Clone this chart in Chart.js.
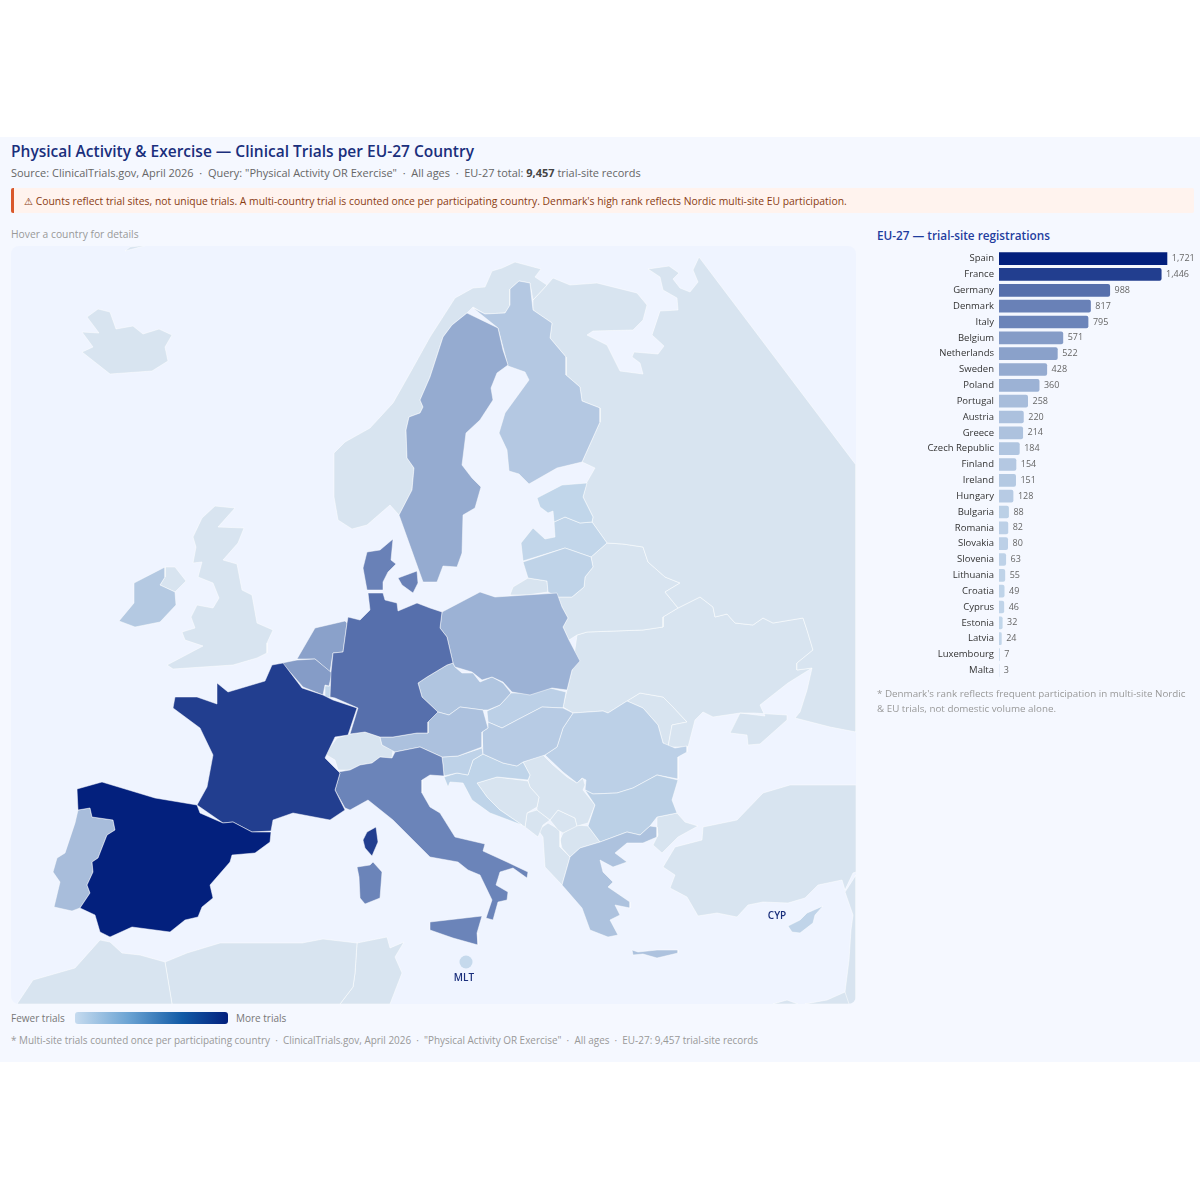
<!DOCTYPE html>
<html>
<head>
    <meta charset="utf-8">
    <title>Physical Activity & Exercise - Clinical Trials per EU-27 Country</title>
    <script src="https://cdn.jsdelivr.net/npm/chart.js"></script>
    <style>
        body { margin: 0; background: #fff; font-family: "Open Sans", sans-serif; width: 1200px; height: 1200px; position: relative; overflow: hidden; }
        #panel { position: absolute; left: 0; top: 137px; width: 1200px; height: 925px; background: #f5f8ff; }
        .t { position: absolute; white-space: nowrap; line-height: 1; }
        #title { left: 11px; top: 144px; font-size: 15.5px; font-weight: 600; color: #1a2f7c; }
        #sub { left: 11px; top: 167px; font-size: 10.98px; color: #666; }
        #sub b { color: #444; }
        #warn { position: absolute; left: 11px; top: 188px; width: 1170px; height: 25px; background: #fff3ee; border-left: 3px solid #d9582b; border-radius: 2px; padding-left: 10px; font-size: 10.38px; line-height: 27px; color: #8a3c12; white-space: nowrap; }
        #hover { left: 11px; top: 229px; font-size: 10.3px; color: #999; }
        #mapbox { position: absolute; left: 11px; top: 246px; width: 845px; height: 758px; background: #eff4ff; border-radius: 8px; overflow: hidden; }
        #barTitle { left: 877px; top: 230px; font-size: 11.75px; font-weight: 600; color: #1f3d9e; }
        #note { position: absolute; left: 877px; top: 686px; width: 318px; font-size: 9.8px; line-height: 15px; color: #999; }
        #fewer { left: 11px; top: 1013px; font-size: 10px; color: #777; }
        #more { left: 236px; top: 1013px; font-size: 10px; color: #777; }
        #ramp { position: absolute; left: 75px; top: 1012px; width: 153px; height: 12px; border-radius: 3px; background: linear-gradient(to right, #c6dbef, #6ba3d3 35%, #125ba6 70%, #03207d); }
        #foot { left: 11px; top: 1036px; font-size: 9.94px; color: #999; }
    </style>
</head>
<body>
    <div id="panel"></div>
    <div class="t" id="title">Physical Activity &amp; Exercise — Clinical Trials per EU-27 Country</div>
    <div class="t" id="sub">Source: ClinicalTrials.gov, April 2026 &nbsp;·&nbsp; Query: "Physical Activity OR Exercise" &nbsp;·&nbsp; All ages &nbsp;·&nbsp; EU-27 total: <b>9,457</b> trial-site records</div>
    <div id="warn">⚠ Counts reflect trial sites, not unique trials. A multi-country trial is counted once per participating country. Denmark's high rank reflects Nordic multi-site EU participation.</div>
    <div class="t" id="hover">Hover a country for details</div>
    <div id="mapbox"><canvas id="mapChart" width="845" height="758"></canvas></div>
    <div class="t" id="barTitle">EU-27 — trial-site registrations</div>
    <canvas id="barChart" width="324" height="449" style="position:absolute;left:876px;top:240px"></canvas>
    <div id="note">* Denmark's rank reflects frequent participation in multi-site Nordic &amp; EU trials, not domestic volume alone.</div>
    <div class="t" id="fewer">Fewer trials</div>
    <div id="ramp"></div>
    <div class="t" id="more">More trials</div>
    <div class="t" id="foot">* Multi-site trials counted once per participating country &nbsp;·&nbsp; ClinicalTrials.gov, April 2026 &nbsp;·&nbsp; "Physical Activity OR Exercise" &nbsp;·&nbsp; All ages &nbsp;·&nbsp; EU-27: 9,457 trial-site records</div>

    <script>
        // trial-site counts, sorted as in the side panel
        const countries = ['Spain', 'France', 'Germany', 'Denmark', 'Italy', 'Belgium', 'Netherlands', 'Sweden', 'Poland', 'Portugal', 'Austria', 'Greece', 'Czech Republic', 'Finland', 'Ireland', 'Hungary', 'Bulgaria', 'Romania', 'Slovakia', 'Slovenia', 'Lithuania', 'Croatia', 'Cyprus', 'Estonia', 'Latvia', 'Luxembourg', 'Malta'];
        const trials = [1721, 1446, 988, 817, 795, 571, 522, 428, 360, 258, 220, 214, 184, 154, 151, 128, 88, 82, 80, 63, 55, 49, 46, 32, 24, 7, 3];

        // country outlines in map units
        const spain = [[77,789],[102,782],[155,798],[197,805],[200,813],[223,823],[233,822],[252,832],[271,832],[270,842],[255,853],[232,855],[230,862],[210,885],[213,898],[202,907],[198,917],[185,920],[170,932],[132,927],[110,937],[100,932],[95,915],[80,908],[90,893],[87,885],[93,872],[92,862],[98,858],[107,835],[115,830],[113,820],[92,817],[90,808],[78,810]];
        const portugal = [[78,810],[90,808],[92,817],[113,820],[115,830],[107,835],[98,858],[92,862],[93,872],[87,885],[90,893],[80,908],[72,911],[54,907],[60,882],[53,872],[57,858],[65,853],[75,823]];
        const france = [[283,663],[302,688],[323,695],[333,700],[357,708],[348,735],[335,737],[325,758],[340,773],[335,790],[345,810],[330,820],[293,813],[273,820],[271,831],[252,832],[233,822],[223,823],[197,805],[207,787],[213,755],[200,728],[173,708],[175,697],[197,697],[217,704],[217,683],[228,692],[265,681],[272,665]];
        const corsica = [[376,827],[378,842],[372,856],[365,848],[363,840],[367,832]];
        const germany = [[368,593],[383,593],[385,600],[397,603],[398,611],[417,603],[430,608],[442,612],[440,628],[447,637],[453,663],[447,665],[427,677],[418,683],[422,697],[438,712],[428,722],[428,733],[417,733],[393,737],[380,737],[365,732],[350,734],[358,708],[335,698],[330,697],[331,672],[333,653],[343,652],[347,623],[348,617],[360,620],[370,610]];
        const jutland = [[393,539],[380,550],[367,552],[363,568],[367,590],[383,590],[383,582],[388,572],[396,564],[391,560]];
        const zealand = [[398,578],[417,571],[418,583],[413,593],[402,585]];
        const italy = [[338,772],[350,770],[360,765],[372,763],[380,757],[392,758],[395,752],[420,747],[442,757],[443,765],[444,776],[430,775],[422,780],[422,793],[430,807],[440,813],[455,837],[485,844],[483,851],[507,862],[528,872],[527,878],[513,868],[500,872],[496,885],[508,892],[507,900],[498,902],[493,920],[486,918],[492,900],[480,875],[468,870],[458,862],[430,857],[393,820],[368,800],[350,810],[345,808],[335,790],[340,773]];
        const sicily = [[430,922],[482,916],[477,933],[478,945],[453,938],[430,930]];
        const sardinia = [[357,867],[370,865],[373,862],[382,872],[380,898],[365,904],[360,898],[359,877]];
        const belgium = [[282,663],[297,660],[315,659],[332,673],[329,686],[325,685],[323,695],[303,687],[290,672]];
        const netherlands = [[297,659],[315,628],[345,621],[347,623],[343,652],[333,653],[330,672],[315,659]];
        const sweden = [[467,313],[498,328],[503,350],[508,365],[497,373],[491,388],[493,400],[480,420],[466,433],[462,465],[472,478],[481,487],[475,508],[463,515],[462,553],[457,567],[443,566],[437,582],[423,582],[399,515],[412,490],[414,468],[407,458],[406,430],[409,417],[420,413],[423,407],[420,400],[430,377],[443,337],[452,325]];
        const poland = [[442,612],[480,592],[495,597],[557,593],[562,607],[568,618],[563,627],[569,640],[580,661],[572,670],[567,690],[552,688],[530,695],[512,692],[503,682],[492,677],[482,680],[472,672],[455,667],[453,663],[447,637],[440,628]];
        const austria = [[380,737],[393,737],[417,733],[428,733],[428,722],[438,712],[449,715],[460,707],[483,710],[488,728],[482,732],[482,747],[458,756],[442,757],[420,747],[395,752],[382,745]];
        const greece = [[562,885],[570,857],[580,848],[600,842],[627,832],[640,835],[650,826],[657,827],[657,837],[643,843],[627,843],[615,853],[627,862],[613,867],[600,860],[603,872],[613,882],[608,887],[630,902],[630,908],[615,905],[620,915],[610,920],[618,935],[608,937],[590,930],[582,908]];
        const crete = [[632,950],[638,952],[657,950],[678,950],[678,953],[657,958],[643,954],[633,955]];
        const czechia = [[418,683],[427,677],[447,665],[453,663],[455,667],[462,673],[473,673],[480,682],[492,677],[503,683],[511,693],[500,705],[488,710],[483,710],[460,707],[449,715],[438,712],[422,697]];
        const finland = [[519,281],[530,283],[533,310],[552,323],[550,338],[566,357],[566,375],[580,387],[582,401],[600,408],[600,422],[582,462],[557,468],[529,484],[519,474],[509,471],[507,450],[499,433],[505,413],[529,380],[525,372],[508,366],[498,328],[473,308],[485,314],[505,313],[510,305],[510,289]];
        const ireland = [[165,567],[165,577],[160,585],[175,592],[176,605],[160,622],[135,627],[119,621],[134,603],[134,583]];
        const hungary = [[488,722],[502,728],[517,720],[542,707],[563,708],[573,713],[563,728],[557,747],[545,755],[523,762],[517,766],[503,763],[483,754],[482,732],[488,728]];
        const bulgaria = [[585,790],[593,794],[617,793],[633,788],[657,775],[678,780],[672,800],[677,813],[657,817],[650,826],[640,835],[627,832],[600,842],[588,826],[595,805]];
        const romania = [[573,713],[603,711],[608,713],[627,701],[643,708],[658,725],[663,743],[675,748],[687,746],[687,752],[678,757],[678,779],[657,775],[633,788],[617,793],[593,794],[585,790],[586,780],[582,778],[577,783],[563,772],[545,755],[557,747],[563,728]];
        const slovakia = [[511,693],[528,693],[550,688],[566,692],[563,708],[542,707],[517,720],[502,728],[488,722],[487,711],[500,705]];
        const slovenia = [[442,757],[458,756],[482,748],[483,754],[473,760],[468,775],[457,773],[444,776],[443,765]];
        const lithuania = [[523,562],[565,548],[591,557],[593,567],[585,577],[584,587],[572,597],[558,597],[548,592],[547,581],[528,578]];
        const croatia = [[483,754],[503,763],[517,766],[523,762],[530,775],[528,780],[497,777],[477,783],[487,797],[500,810],[522,825],[490,813],[472,800],[463,783],[450,782],[448,787],[444,777],[457,773],[468,775],[473,760]];
        const cyprus = [[788,926],[800,920],[807,913],[823,906],[815,915],[813,923],[800,933],[792,932]];
        const estonia = [[537,498],[562,485],[587,483],[583,497],[593,517],[592,522],[580,523],[565,517],[554,522],[553,511],[548,513],[540,507]];
        const latvia = [[554,522],[565,517],[580,523],[592,522],[607,543],[591,557],[565,548],[523,561],[521,543],[533,528],[545,539],[555,537]];
        const luxembourg = [[325,686],[332,686],[332,698],[325,697]];

        // countries outside the EU-27
        const norway = [[390,505],[367,525],[352,529],[338,520],[334,497],[334,453],[345,442],[370,428],[393,403],[410,373],[430,337],[455,298],[473,288],[485,287],[492,271],[502,268],[515,262],[541,269],[535,277],[547,285],[533,300],[530,283],[519,281],[510,289],[510,305],[505,313],[485,314],[473,307],[467,313],[452,325],[443,337],[430,377],[420,400],[423,407],[420,413],[409,417],[406,430],[407,458],[414,468],[412,490],[399,515]];
        const russia = [[547,285],[553,278],[570,285],[597,283],[637,293],[647,305],[643,320],[633,330],[593,331],[587,335],[607,345],[620,371],[643,374],[640,363],[632,357],[634,352],[658,354],[664,346],[652,335],[660,311],[678,310],[677,298],[663,290],[660,277],[648,269],[669,266],[679,273],[673,279],[680,288],[690,292],[698,282],[693,270],[699,257],[856,465],[856,732],[830,727],[795,718],[800,712],[807,690],[812,668],[797,670],[797,663],[813,650],[807,630],[803,618],[773,623],[763,618],[753,625],[735,623],[727,614],[715,617],[713,607],[700,597],[678,608],[665,592],[680,583],[665,577],[648,562],[643,547],[623,544],[607,543],[592,522],[593,517],[583,497],[587,482],[595,468],[582,462],[600,422],[600,408],[582,401],[580,387],[566,375],[566,357],[550,338],[552,323],[533,310],[533,300]];
        const kaliningrad = [[510,595],[513,587],[528,578],[547,581],[548,592],[527,595]];
        const belarus = [[558,597],[572,597],[584,587],[585,577],[593,567],[591,557],[607,543],[623,544],[643,547],[648,562],[665,577],[680,583],[665,592],[678,608],[663,617],[663,627],[643,630],[587,632],[577,635],[569,640],[563,627],[568,618],[562,607]];
        const ukraine = [[678,608],[700,597],[713,607],[715,617],[727,614],[735,623],[753,625],[763,618],[773,623],[803,618],[807,630],[813,650],[797,663],[797,670],[812,668],[788,683],[760,705],[765,716],[740,713],[730,733],[747,735],[748,745],[760,744],[787,720],[787,715],[753,713],[740,713],[713,717],[703,712],[695,720],[688,747],[668,747],[672,725],[687,722],[673,707],[663,697],[640,693],[627,701],[608,713],[603,711],[573,713],[563,707],[567,690],[572,670],[577,635],[587,632],[643,630],[663,627],[663,617]];
        const moldova = [[627,701],[640,693],[663,697],[673,707],[687,722],[672,725],[668,747],[663,743],[658,725],[643,708]];
        const uk = [[215,506],[235,508],[218,527],[244,528],[238,543],[223,560],[237,564],[242,590],[252,595],[257,623],[273,630],[267,643],[267,653],[257,658],[233,665],[173,669],[167,665],[203,646],[185,640],[182,632],[195,628],[191,617],[197,605],[213,608],[219,598],[213,583],[198,577],[202,562],[193,563],[196,547],[193,537],[202,518]];
        const northernIreland = [[165,567],[175,567],[186,581],[175,592],[160,585],[165,577]];
        const iceland = [[87,317],[98,309],[110,312],[116,329],[133,326],[143,334],[159,329],[172,335],[165,347],[168,361],[152,371],[110,374],[82,352],[93,347],[82,332],[99,333]];
        const greenlandTip = [[125,251],[130,247],[148,245]];
        const switzerland = [[325,754],[337,738],[350,734],[365,732],[380,737],[382,745],[393,750],[392,758],[380,757],[372,763],[360,765],[350,770],[338,770],[335,760]];
        const bosnia = [[477,783],[497,777],[528,781],[530,787],[539,797],[537,807],[527,813],[525,827],[522,825],[500,810],[487,797]];
        const serbia = [[523,762],[543,755],[553,765],[567,777],[577,783],[583,778],[585,785],[583,790],[595,805],[588,823],[577,826],[575,818],[558,810],[550,820],[537,810],[537,807],[539,797],[530,787],[528,781],[530,775]];
        const kosovo = [[558,810],[575,818],[577,826],[563,833],[558,830],[550,820]];
        const montenegro = [[527,813],[537,810],[550,820],[543,825],[538,837],[525,827]];
        const albania = [[548,823],[560,830],[560,847],[570,857],[562,885],[545,867],[543,837],[538,830]];
        const macedonia = [[560,840],[563,833],[577,825],[588,826],[600,842],[580,848],[570,857],[562,848]];
        const turkeyEurope = [[657,817],[677,813],[685,822],[698,826],[678,837],[662,853],[653,845],[658,835],[657,827]];
        const turkey = [[856,785],[790,785],[763,793],[737,820],[703,827],[702,840],[675,847],[663,867],[675,875],[670,888],[687,897],[698,916],[717,913],[737,917],[748,905],[763,902],[788,903],[805,898],[818,885],[842,880],[845,890],[853,873],[856,872]];
        const levant = [[845,892],[856,875],[856,1004],[849,1004],[845,992],[849,960],[851,930],[853,915]];
        const egypt = [[805,1004],[827,1000],[845,992],[856,1004]];
        const libyaCoast = [[773,1004],[787,1000],[798,1004]];
        const morocco = [[17,1004],[33,980],[75,968],[100,940],[110,942],[122,953],[140,955],[165,962],[172,1004]];
        const algeria = [[165,962],[187,953],[220,943],[263,943],[302,943],[323,939],[357,943],[355,973],[353,987],[340,1004],[172,1004]];
        const tunisia = [[357,943],[387,937],[390,948],[404,942],[395,957],[402,973],[390,1004],[340,1004],[353,987],[355,973]];

        const euOutlines = {
            'Spain': [spain], 'Portugal': [portugal], 'France': [france, corsica], 'Germany': [germany],
            'Denmark': [jutland, zealand], 'Italy': [italy, sicily, sardinia], 'Belgium': [belgium],
            'Netherlands': [netherlands], 'Sweden': [sweden], 'Poland': [poland], 'Austria': [austria],
            'Greece': [greece, crete], 'Czech Republic': [czechia], 'Finland': [finland], 'Ireland': [ireland],
            'Hungary': [hungary], 'Bulgaria': [bulgaria], 'Romania': [romania], 'Slovakia': [slovakia],
            'Slovenia': [slovenia], 'Lithuania': [lithuania], 'Croatia': [croatia], 'Cyprus': [cyprus],
            'Estonia': [estonia], 'Latvia': [latvia], 'Luxembourg': [luxembourg]
        };
        const otherOutlines = [norway, russia, kaliningrad, belarus, ukraine, moldova, uk, northernIreland, iceland, greenlandTip, switzerland, bosnia, serbia, kosovo, montenegro, albania, macedonia, turkeyEurope, turkey, levant, egypt, libyaCoast, morocco, algeria, tunisia];

        const maltaPoint = [466, 962];
        const smallLabels = [['MLT', 464, 978], ['CYP', 777, 916]];

        // light to dark, linear in the count
        function shade(v) {
            const t = v / 1721;
            const mix = (a, b) => Math.round(a + (b - a) * t);
            return 'rgb(' + mix(197, 3) + ',' + mix(217, 32) + ',' + mix(236, 125) + ')';
        }

        function shape(ring, color, label) {
            return {
                label: label,
                data: ring.concat([ring[0]]).map(p => ({ x: p[0], y: p[1] })),
                showLine: true,
                fill: 'shape',
                backgroundColor: color,
                borderColor: 'rgba(255,255,255,0.7)',
                borderWidth: 0.7,
                pointRadius: 0,
                pointHitRadius: 0,
                tension: 0
            };
        }

        const mapDatasets = [{
            label: 'Malta',
            data: [{ x: maltaPoint[0], y: maltaPoint[1] }],
            pointRadius: 6.5,
            backgroundColor: shade(3),
            borderWidth: 0
        }];
        for (const name in euOutlines) {
            const v = trials[countries.indexOf(name)];
            euOutlines[name].forEach(r => mapDatasets.push(shape(r, shade(v), name + ': ' + v)));
        }
        otherOutlines.forEach(r => mapDatasets.push(shape(r, '#d8e4f0', '')));

        const mapLabels = {
            id: 'mapLabels',
            afterDatasetsDraw(chart) {
                const ctx = chart.ctx;
                ctx.save();
                ctx.font = '600 10px "Open Sans"';
                ctx.fillStyle = '#1a2f7c';
                ctx.textAlign = 'center';
                ctx.textBaseline = 'middle';
                smallLabels.forEach(l => ctx.fillText(l[0], chart.scales.x.getPixelForValue(l[1]), chart.scales.y.getPixelForValue(l[2])));
                ctx.restore();
            }
        };

        new Chart(document.getElementById('mapChart'), {
            type: 'scatter',
            data: { datasets: mapDatasets },
            plugins: [mapLabels],
            options: {
                responsive: false,
                animation: false,
                layout: { autoPadding: false, padding: 0 },
                plugins: { legend: { display: false }, tooltip: { enabled: false } },
                scales: {
                    x: { type: 'linear', display: false, min: 11, max: 856 },
                    y: { type: 'linear', display: false, min: 246, max: 1004, reverse: true }
                }
            }
        });

        const barValues = {
            id: 'barValues',
            afterDatasetsDraw(chart) {
                const ctx = chart.ctx;
                const meta = chart.getDatasetMeta(0);
                ctx.save();
                ctx.font = '9px "Open Sans"';
                ctx.fillStyle = '#666';
                ctx.textBaseline = 'middle';
                meta.data.forEach((bar, i) => {
                    // Spain runs past the axis end, its number stays next to the cut bar
                    const x = Math.min(bar.x, chart.chartArea.right);
                    ctx.fillText(trials[i].toLocaleString('en-US'), x + 4.5, bar.y);
                });
                ctx.restore();
            }
        };

        new Chart(document.getElementById('barChart'), {
            type: 'bar',
            data: {
                labels: countries,
                datasets: [{
                    data: trials,
                    backgroundColor: trials.map(shade),
                    borderRadius: 2,
                    barPercentage: 0.8,
                    categoryPercentage: 1
                }]
            },
            plugins: [barValues],
            options: {
                indexAxis: 'y',
                responsive: false,
                animation: false,
                layout: { autoPadding: false, padding: { right: 32.7 } },
                plugins: { legend: { display: false }, tooltip: { enabled: false } },
                scales: {
                    x: { display: false, min: 0, max: 1497 },
                    y: {
                        grid: { display: false, drawTicks: false },
                        border: { display: false },
                        afterFit(scale) { scale.width = 123; },
                        ticks: { autoSkip: false, padding: 5, color: '#333', font: { size: 9.5, family: '"Open Sans"' } }
                    }
                }
            }
        });
    </script>
</body>
</html>
